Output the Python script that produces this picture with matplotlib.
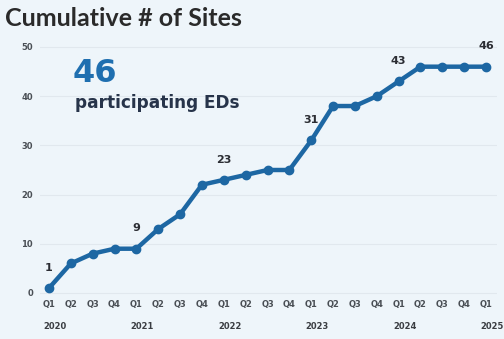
import matplotlib
matplotlib.use("Agg")
import matplotlib.pyplot as plt

quarters = ["Q1", "Q2", "Q3", "Q4"] * 5 + ["Q1"]
years = ["2020", "2021", "2022", "2023", "2024", "2025"]
values = [1, 6, 8, 9, 9, 13, 16, 22, 23, 24, 25, 25, 31, 38, 38, 40, 43, 46, 46, 46, 46]
labeled_idx = [0, 4, 8, 12, 16, 20]
yticks = [0, 10, 20, 30, 40, 50]

bg = "#eef5fa"
line_c = "#1d67a3"
dark = "#2b2d33"

fig = plt.figure(figsize=(5.04, 3.39), dpi=100, facecolor=bg)
W, H = 504, 339
left, right = 40, 497
top, bottom = 40, 296
ax = fig.add_axes([left / W, 1 - bottom / H, (right - left) / W, (bottom - top) / H])
ax.set_facecolor(bg)

x = list(range(len(values)))
ax.plot(x, values, color=line_c, lw=3.2, marker="o", ms=6, mfc=line_c, mec=line_c, zorder=3,
        solid_capstyle="round", solid_joinstyle="round")

px_per_x = 21.85
ax.set_xlim(-(49 - left) / px_per_x, 20 + (right - 486) / px_per_x)
px_per_y = 4.92
ax.set_ylim(-(bottom - 293) / px_per_y, 50 + (47 - top) / px_per_y)

ax.set_yticks(yticks)
ax.set_yticklabels([str(v) for v in yticks])
ax.set_xticks(x)
ax.set_xticklabels(quarters)
ax.tick_params(axis="both", length=0, labelsize=6, labelcolor="#4a4f55")
ax.tick_params(axis="y", pad=5)
ax.tick_params(axis="x", pad=3)
for lab in ax.get_xticklabels() + ax.get_yticklabels():
    lab.set_fontfamily("DejaVu Sans")
    lab.set_fontweight("bold")

for v in yticks:
    ax.axhline(v, color="#e1e8ee", lw=0.8, zorder=1)

for s in ax.spines.values():
    s.set_visible(False)

for i in labeled_idx:
    ax.annotate(str(values[i]), (i, values[i]), xytext=(0, 11), textcoords="offset points",
                ha="center", va="bottom", fontsize=8, fontweight="bold", color=dark,
                family="DejaVu Sans")

for k, yr in enumerate(years):
    xi = k * 4
    ax.annotate(yr, (xi, 0), xycoords=("data", "axes fraction"), xytext=(-4, -19),
                textcoords="offset points", ha="left", va="top", fontsize=6,
                fontweight="bold", color="#3a3d42", family="DejaVu Sans",
                annotation_clip=False)

fig.text(5 / W, 1 - 19 / H, "Cumulative # of Sites", fontsize=18, fontweight="bold",
         color="#2a2a2a", family="Lato", va="center", ha="left")
fig.text(73 / W, 1 - 73 / H, "46", fontsize=23, fontweight="bold", color="#1f6fb0",
         family="DejaVu Sans", va="center", ha="left")
fig.text(75 / W, 1 - 103 / H, "participating EDs", fontsize=12.2, fontweight="bold",
         color="#27344a", family="DejaVu Sans", va="center", ha="left")

fig.savefig("out.png", dpi=100, facecolor=bg)
